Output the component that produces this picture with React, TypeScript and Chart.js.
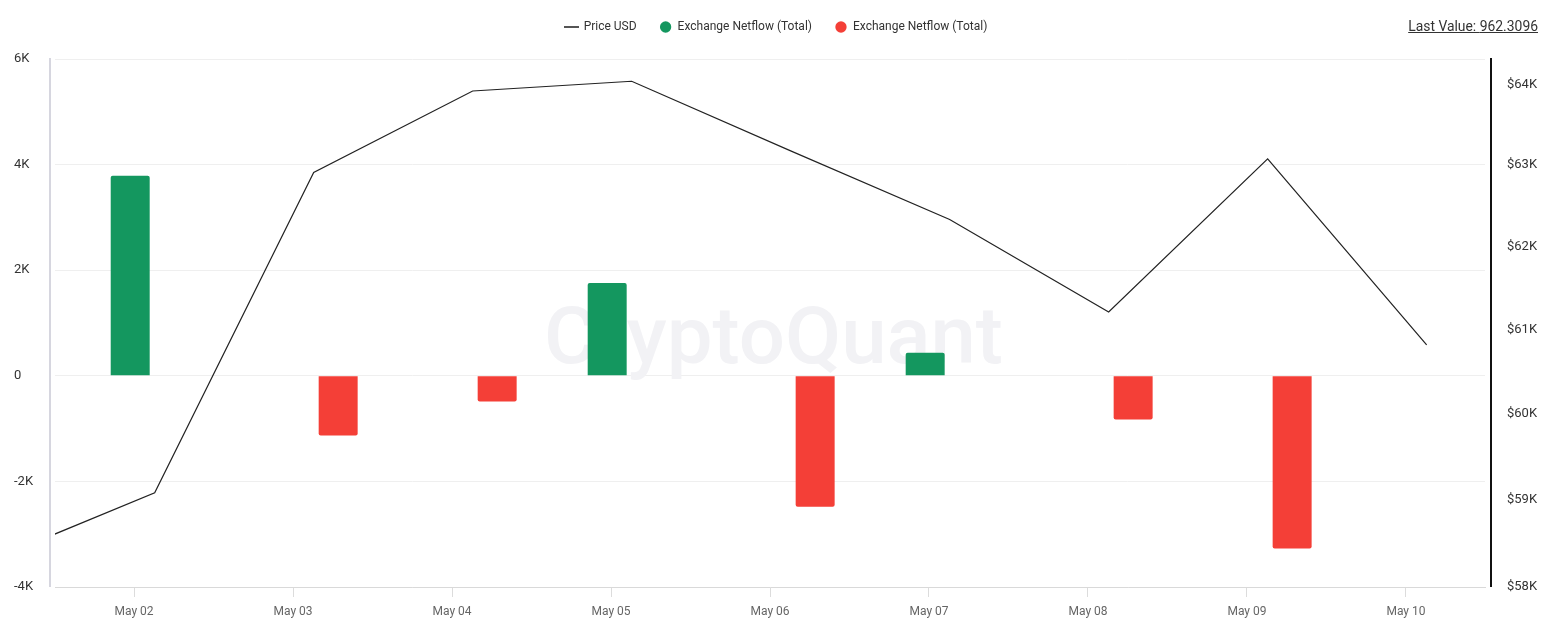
import React, { useEffect, useRef } from 'react';
import { Chart, registerables } from 'chart.js';

Chart.register(...registerables);

// ---- data ----
const dayLabels = ['May 01', 'May 02', 'May 03', 'May 04', 'May 05', 'May 06', 'May 07', 'May 08', 'May 09', 'May 10'];
const dayNumbers = [1, 2, 3, 4, 5, 6, 7, 8, 9, 10];
const sampleHourOffset = 0.13; // samples are taken ~03:00 each day
const priceUSD = [58324, 59081, 62906, 63917, 64039, 63172, 62328, 61210, 63073, 60816];
const netflow: (number | null)[] = [null, 3790, -1130, -487, 1757, -2480, 436, -830, -3270, null];
const leftTicks = [-4000, -2000, 0, 2000, 4000, 6000];
const rightTicks = [58000, 59000, 60000, 61000, 62000, 63000, 64000];
const lastValue = '962.3096';

const GREEN = '#14975f';
const RED = '#f43f37';
const FONT = 'Roboto, "Noto Sans", sans-serif';

function makeLineIcon() {
  const c = document.createElement('canvas');
  c.width = 15;
  c.height = 2;
  const g = c.getContext('2d');
  if (g) {
    g.fillStyle = '#555';
    g.fillRect(0, 0, 15, 2);
  }
  return c;
}

export default function App() {
  const ref = useRef<HTMLCanvasElement | null>(null);

  useEffect(() => {
    if (!ref.current) return;
    const xs = dayNumbers.map((d) => d + sampleHourOffset);
    const priceData = xs.map((x, i) => ({ x, y: priceUSD[i] }));
    const inflowData = xs.map((x, i) => ({ x, y: netflow[i] !== null && (netflow[i] as number) > 0 ? netflow[i] : null }));
    const outflowData = xs.map((x, i) => ({ x, y: netflow[i] !== null && (netflow[i] as number) < 0 ? netflow[i] : null }));
    const lineIcon = makeLineIcon();

    const legendTweak = {
      id: 'legendTweak',
      beforeInit(chart: any) {
        const lg = chart.legend;
        if (!lg) return;
        const fit = lg.fit.bind(lg);
        lg.fit = function () {
          fit();
          this.height = 59;
        };
        const draw = lg.draw.bind(lg);
        lg.draw = function (...args: any[]) {
          const ctx = chart.ctx;
          ctx.save();
          ctx.translate(-7, -2);
          draw(...args);
          ctx.restore();
        };
      },
    };

    const decor = {
      id: 'decor',
      beforeDatasetsDraw(chart: any) {
        const { ctx, chartArea: a } = chart;
        ctx.save();
        ctx.font = `500 80px ${FONT}`;
        ctx.fillStyle = '#f2f2f5';
        ctx.textAlign = 'center';
        ctx.textBaseline = 'alphabetic';
        const w = ctx.measureText('CryptoQuant').width;
        ctx.translate((a.left + a.right) / 2 + 3.5, a.top + 303.5);
        ctx.scale(459 / w, 1);
        ctx.fillText('CryptoQuant', 0, 0);
        ctx.restore();
      },
      afterDraw(chart: any) {
        const { ctx, chartArea: a } = chart;
        ctx.save();
        ctx.fillStyle = '#d6d6df';
        ctx.fillRect(a.left - 6, a.top - 1, 2, a.bottom - a.top + 1);
        ctx.fillStyle = '#111';
        ctx.fillRect(a.right + 5, a.top - 1, 2, a.bottom - a.top + 1);
        ctx.restore();
      },
    };

    const chart = new Chart(ref.current, {
      type: 'bar',
      data: {
        datasets: [
          {
            type: 'line',
            label: 'Price USD',
            data: priceData,
            yAxisID: 'y1',
            borderColor: '#222',
            borderWidth: 1.2,
            pointRadius: 0,
            tension: 0,
            fill: false,
          } as any,
          {
            type: 'bar',
            label: 'Exchange Netflow (Total)',
            data: inflowData,
            yAxisID: 'y',
            backgroundColor: GREEN,
            borderRadius: 2,
            categoryPercentage: 0.616,
            barPercentage: 0.796,
          },
          {
            type: 'bar',
            label: 'Exchange Netflow (Total)',
            data: outflowData,
            yAxisID: 'y',
            backgroundColor: RED,
            borderRadius: 2,
            categoryPercentage: 0.616,
            barPercentage: 0.796,
          },
        ],
      },
      options: {
        animation: false,
        responsive: true,
        maintainAspectRatio: false,
        events: [],
        layout: { padding: { left: 14, right: 0, top: 0, bottom: 0 } },
        plugins: {
          tooltip: { enabled: false },
          legend: {
            display: true,
            position: 'top',
            labels: {
              usePointStyle: true,
              boxHeight: 8,
              padding: 23,
              color: '#333',
              font: { family: FONT, size: 12 },
              generateLabels: (c: any) => {
                const items = (Chart.defaults.plugins.legend.labels as any).generateLabels(c);
                items.forEach((it: any) => {
                  if (it.datasetIndex === 0) {
                    it.pointStyle = lineIcon;
                    it.lineWidth = 0;
                  } else {
                    const col = it.datasetIndex === 1 ? GREEN : RED;
                    it.pointStyle = 'circle';
                    it.fillStyle = col;
                    it.strokeStyle = col;
                    it.lineWidth = 0;
                  }
                });
                return items;
              },
            },
          },
        },
        scales: {
          x: {
            type: 'linear',
            min: 1.503,
            max: 10.497,
            offset: false,
            grid: { display: true, drawOnChartArea: false, drawTicks: true, tickLength: 10, color: '#dcdcdc', offset: false },
            border: { display: true, color: '#d9d9d9' },
            ticks: {
              stepSize: 1,
              includeBounds: false,
              autoSkip: false,
              maxRotation: 0,
              padding: 8,
              color: '#666',
              font: { family: FONT, size: 12 },
              callback: (v: any) => {
                const i = dayNumbers.indexOf(Math.round(Number(v)));
                return i >= 0 ? dayLabels[i] : '';
              },
            },
            afterFit: (s: any) => {
              s.height = 41;
            },
          },
          y: {
            type: 'linear',
            position: 'left',
            min: leftTicks[0],
            max: leftTicks[leftTicks.length - 1],
            grid: { color: '#efefef', drawTicks: false },
            border: { display: false },
            ticks: {
              stepSize: 2000,
              crossAlign: 'far',
              padding: 0,
              color: '#333',
              font: { family: FONT, size: 13 },
              callback: (v: any) => (Number(v) === 0 ? '0' : Number(v) / 1000 + 'K'),
            },
            afterBuildTicks: (s: any) => {
              s.ticks = leftTicks.map((value) => ({ value }));
            },
            afterFit: (s: any) => {
              s.width = 41;
            },
          },
          y1: {
            type: 'logarithmic',
            position: 'right',
            min: 58000,
            max: 64319,
            grid: { drawOnChartArea: false, drawTicks: false },
            border: { display: false },
            ticks: {
              padding: 22,
              color: '#333',
              font: { family: FONT, size: 13 },
              autoSkip: false,
              callback: (v: any) => '$' + Math.round(Number(v) / 1000) + 'K',
            },
            afterBuildTicks: (s: any) => {
              s.ticks = rightTicks.map((value) => ({ value }));
            },
            afterFit: (s: any) => {
              s.width = 68;
            },
          },
        },
      } as any,
      plugins: [legendTweak, decor],
    });

    return () => {
      chart.destroy();
    };
  }, []);

  return (
    <div style={{ position: 'absolute', left: 0, top: 0, width: 1553, height: 628, background: '#fff' }}>
      <div style={{ position: 'absolute', left: 0, top: 0, width: 1553, height: 628 }}>
        <canvas ref={ref} />
      </div>
      <div
        style={{
          position: 'absolute',
          right: 15,
          top: 18,
          fontFamily: FONT,
          fontSize: 13.9,
          lineHeight: '17px',
          color: '#333',
          textDecoration: 'underline',
          whiteSpace: 'nowrap',
        }}
      >
        Last Value: {lastValue}
      </div>
    </div>
  );
}
